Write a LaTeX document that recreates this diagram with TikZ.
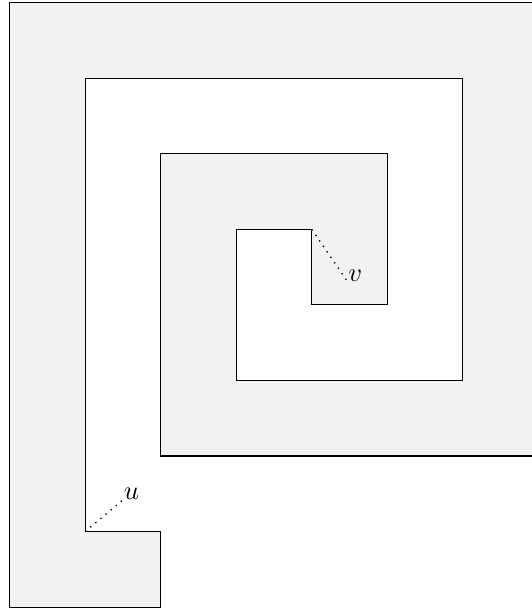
\documentclass[tikz,border=0pt]{standalone}
\begin{document}
\begin{tikzpicture}[x=1cm,y=-1cm,
  region/.style={draw=black, line width=0.4pt, fill=black!5},
  lbl/.style={inner sep=0pt},
  link/.style={dotted, line width=0.5pt}]
\useasboundingbox (-0.128,-0.037) rectangle (6.913,8.026);
\begin{scope}
\clip (-0.128,-0.037) rectangle (6.913,8.026);
\draw[region] (0,0) -- (7,0) -- (7,6) -- (2,6) -- (2,2) -- (5,2) -- (5,4) -- (4,4) -- (4,3) -- (3,3) -- (3,5) -- (6,5) -- (6,1) -- (1,1) -- (1,7) -- (2,7) -- (2,8) -- (0,8) -- cycle;
\end{scope}
\coordinate (cv) at (4,3);
\coordinate (cu) at (1,7);
\node[lbl] (v) at (4.577,3.616) {$v$};
\node[lbl] (u) at (1.612,6.495) {$u$};
\draw[link] (cv) -- (v.south west);
\draw[link] (cu) -- (u.south west);
\end{tikzpicture}
\end{document}
